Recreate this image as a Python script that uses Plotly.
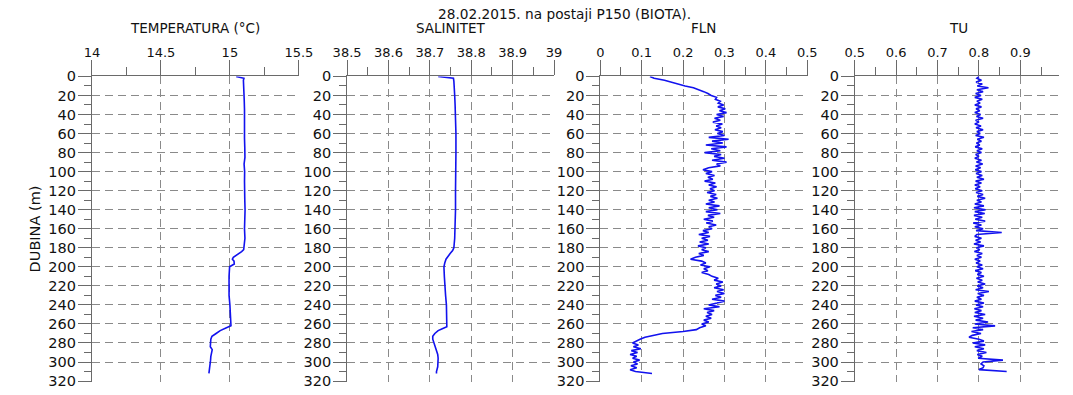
import plotly.graph_objects as go

W, H = 1073, 395

# Temperature profile (°C) versus depth (m)
TEMP_DEPTH = [0, 1, 2, 4, 8, 15, 25, 35, 45, 55, 65, 75, 85, 92, 100, 110, 120, 130,
              140, 150, 160, 170, 178, 182, 184, 187, 190, 192, 194, 197, 200, 210, 220,
              230, 240, 250, 258, 262, 264, 267, 270, 273, 276, 280, 284, 287, 290, 294,
              298, 302, 306, 310, 312]
TEMP = [15.045, 15.07, 15.102, 15.098, 15.1, 15.102, 15.104, 15.106, 15.105, 15.107,
        15.106, 15.108, 15.109, 15.103, 15.107, 15.106, 15.105, 15.108, 15.11, 15.107,
        15.106, 15.109, 15.105, 15.1, 15.085, 15.05, 15.025, 15.018, 15.03, 15.032,
        14.998, 14.994, 14.992, 14.994, 15.0, 15.003, 15.006, 15.008, 14.975, 14.93,
        14.9, 14.87, 14.862, 14.86, 14.858, 14.872, 14.866, 14.862, 14.86, 14.858,
        14.855, 14.85, 14.848]

# Salinity profile versus depth (m)
SAL_DEPTH = [0, 1, 2, 5, 10, 20, 30, 40, 60, 80, 100, 120, 140, 160, 170, 180, 183, 186,
             189, 192, 196, 200, 210, 220, 230, 240, 250, 260, 263, 265, 267, 270, 273,
             276, 280, 284, 288, 292, 296, 300, 305, 310, 312]
SAL = [38.72, 38.74, 38.757, 38.758, 38.759, 38.76, 38.761, 38.762, 38.763, 38.763,
       38.762, 38.762, 38.762, 38.761, 38.76, 38.758, 38.755, 38.749, 38.744, 38.739,
       38.736, 38.734, 38.735, 38.736, 38.738, 38.74, 38.741, 38.742, 38.741, 38.73,
       38.72, 38.712, 38.707, 38.707, 38.71, 38.713, 38.716, 38.719, 38.72, 38.72,
       38.719, 38.716, 38.716]

# Fluorescence and turbidity sampled every 2 m
CTD_DEPTH = [0, 2, 4, 6, 8, 10, 12, 14, 16, 18, 20, 22, 24, 26, 28, 30, 32, 34, 36, 38,
             40, 42, 44, 46, 48, 50, 52, 54, 56, 58, 60, 62, 64, 66, 68, 70, 72, 74, 76, 78,
             80, 82, 84, 86, 88, 90, 92, 94, 96, 98, 100, 102, 104, 106, 108, 110, 112, 114,
             116, 118, 120, 122, 124, 126, 128, 130, 132, 134, 136, 138, 140, 142, 144, 146,
             148, 150, 152, 154, 156, 158, 160, 162, 164, 166, 168, 170, 172, 174, 176, 178,
             180, 182, 184, 186, 188, 190, 192, 194, 196, 198, 200, 202, 204, 206, 208, 210,
             212, 214, 216, 218, 220, 222, 224, 226, 228, 230, 232, 234, 236, 238, 240, 242,
             244, 246, 248, 250, 252, 254, 256, 258, 260, 262, 264, 266, 268, 270, 272, 274,
             276, 278, 280, 282, 284, 286, 288, 290, 292, 294, 296, 298, 300, 302, 304, 306,
             308, 310, 312]

FLN = [0.12, 0.13, 0.155, 0.17, 0.186, 0.205, 0.225, 0.24, 0.25, 0.26,
       0.268, 0.281, 0.278, 0.29, 0.285, 0.298, 0.284, 0.302, 0.288, 0.305,
       0.281, 0.298, 0.276, 0.29, 0.272, 0.295, 0.28, 0.292, 0.277, 0.296,
       0.283, 0.30, 0.262, 0.31, 0.27, 0.296, 0.255, 0.305, 0.268, 0.29,
       0.252, 0.292, 0.275, 0.30, 0.27, 0.305, 0.281, 0.29, 0.262, 0.248,
       0.27, 0.255, 0.276, 0.26, 0.272, 0.252, 0.278, 0.262, 0.281, 0.265,
       0.276, 0.258, 0.28, 0.266, 0.283, 0.262, 0.276, 0.255, 0.288, 0.262,
       0.283, 0.255, 0.29, 0.26, 0.275, 0.25, 0.272, 0.256, 0.28, 0.262,
       0.27, 0.248, 0.262, 0.238, 0.265, 0.245, 0.26, 0.24, 0.262, 0.236,
       0.255, 0.245, 0.262, 0.238, 0.25, 0.23, 0.218, 0.245, 0.255, 0.242,
       0.265, 0.25, 0.26, 0.245, 0.262, 0.27, 0.285, 0.275, 0.296, 0.28,
       0.292, 0.275, 0.298, 0.282, 0.30, 0.278, 0.292, 0.27, 0.30, 0.282,
       0.262, 0.288, 0.25, 0.275, 0.258, 0.27, 0.255, 0.268, 0.25, 0.262,
       0.245, 0.255, 0.24, 0.232, 0.20, 0.15, 0.125, 0.108, 0.096, 0.088,
       0.078, 0.092, 0.08, 0.098, 0.075, 0.09, 0.072, 0.088, 0.078, 0.095,
       0.08, 0.09, 0.074, 0.088, 0.072, 0.085, 0.125]

TU = [0.80, 0.795, 0.806, 0.793, 0.808, 0.796, 0.823, 0.795, 0.81, 0.792,
      0.805, 0.79, 0.808, 0.795, 0.803, 0.79, 0.806, 0.793, 0.802, 0.79,
      0.804, 0.794, 0.81, 0.792, 0.80, 0.79, 0.805, 0.793, 0.81, 0.795,
      0.803, 0.792, 0.812, 0.796, 0.806, 0.794, 0.802, 0.791, 0.808, 0.795,
      0.806, 0.792, 0.80, 0.79, 0.806, 0.794, 0.809, 0.792, 0.804, 0.791,
      0.806, 0.793, 0.808, 0.795, 0.812, 0.792, 0.806, 0.79, 0.803, 0.791,
      0.808, 0.793, 0.81, 0.796, 0.815, 0.795, 0.806, 0.79, 0.812, 0.788,
      0.816, 0.79, 0.814, 0.788, 0.808, 0.791, 0.815, 0.786, 0.806, 0.79,
      0.81, 0.793, 0.855, 0.795, 0.79, 0.806, 0.792, 0.804, 0.788, 0.812,
      0.794, 0.802, 0.789, 0.808, 0.795, 0.806, 0.79, 0.803, 0.793, 0.808,
      0.795, 0.81, 0.791, 0.806, 0.796, 0.812, 0.794, 0.808, 0.797, 0.815,
      0.796, 0.81, 0.792, 0.824, 0.797, 0.812, 0.795, 0.806, 0.79, 0.812,
      0.793, 0.81, 0.789, 0.806, 0.79, 0.815, 0.788, 0.81, 0.792, 0.822,
      0.79, 0.839, 0.785, 0.81, 0.782, 0.805, 0.784, 0.776, 0.80, 0.812,
      0.785, 0.815, 0.79, 0.812, 0.795, 0.818, 0.796, 0.808, 0.798, 0.858,
      0.81, 0.805, 0.812, 0.81, 0.80, 0.867]

PANEL_TITLES = ["TEMPERATURA (°C)", "SALINITET", "FLN", "TU"]
X_RANGES = [(14.0, 15.5), (38.5, 39.0), (0.0, 0.5), (0.5, 1.0)]
X_DTICK = [0.5, 0.1, 0.1, 0.1]
DEPTH_MAX = 320
DEPTH_STEP = 20

MAIN_TITLE = "28.02.2015. na postaji P150 (BIOTA)."
Y_TITLE = "DUBINA (m)"

# Panel geometry in pixels
PANEL_LEFT = [80.0, 342.0, 602.0, 863.3]
PANEL_WIDTH = 212.5
PLOT_TOP, PLOT_BOTTOM = 71.3, 389.3

LINE_BLUE = "rgb(18,18,238)"
AXIS_GREY = "#6a6a6a"
GRID_GREY = "#8a8a8a"
FONT = "DejaVu Sans, Verdana, sans-serif"
TEXT = "#111111"

profiles = [(TEMP, TEMP_DEPTH), (SAL, SAL_DEPTH), (FLN, CTD_DEPTH), (TU, CTD_DEPTH[:len(TU)])]

fig = go.Figure()
layout_axes = {}
annotations = []

y_dom = [1 - PLOT_BOTTOM / H, 1 - PLOT_TOP / H]
EPS_FRAC = 0.0015  # keeps the gridlines at the range ends inside the axis range

for i, ((xs, ys), (x0, x1), dt, title) in enumerate(zip(profiles, X_RANGES, X_DTICK, PANEL_TITLES)):
    n = "" if i == 0 else str(i + 1)
    left = PANEL_LEFT[i]
    rng_hi = x1 + (x1 - x0) * EPS_FRAC
    right = left + PANEL_WIDTH * (1 + EPS_FRAC)
    if right > W:
        rng_hi = x0 + (x1 - x0) * (W - left) / PANEL_WIDTH
        right = W
    fig.add_trace(go.Scatter(
        x=xs, y=ys, mode="lines", xaxis="x" + n, yaxis="y" + n,
        line=dict(color=LINE_BLUE, width=1.6), showlegend=False, hoverinfo="skip"))

    layout_axes["xaxis" + n] = dict(
        domain=[left / W, right / W], range=[x0, rng_hi], anchor="y" + n,
        side="top", dtick=dt, tick0=x0, ticks="outside", ticklen=15, tickwidth=1,
        tickcolor=AXIS_GREY, showline=True, linecolor=AXIS_GREY, linewidth=1,
        showgrid=True, gridcolor=GRID_GREY, gridwidth=1, griddash="8px,5px",
        zeroline=False, tickfont=dict(family=FONT, size=13, color=TEXT),
        minor=dict(dtick=dt / 2, tick0=x0, ticks="outside", ticklen=8,
                   tickcolor=AXIS_GREY, showgrid=False),
        ticklabelstandoff=-2, ticklabeloverflow="allow", fixedrange=True)
    layout_axes["yaxis" + n] = dict(
        domain=y_dom, range=[DEPTH_MAX * (1 + EPS_FRAC), 0], anchor="x" + n,
        dtick=DEPTH_STEP, tick0=0, ticks="outside", ticklen=13, tickwidth=1,
        tickcolor=AXIS_GREY, showline=True, linecolor=AXIS_GREY, linewidth=1,
        showgrid=True, gridcolor=GRID_GREY, gridwidth=1, griddash="8px,5px",
        zeroline=False, tickfont=dict(family=FONT, size=14.5, color=TEXT),
        minor=dict(dtick=DEPTH_STEP / 2, tick0=0, ticks="outside", ticklen=7,
                   tickcolor=AXIS_GREY, showgrid=False),
        ticklabelstandoff=-1, ticklabeloverflow="allow", fixedrange=True)

    annotations.append(dict(
        text=title, xref="paper", yref="paper",
        x=(left + PANEL_WIDTH / 2) / W, y=1 - 20.5 / H,
        xanchor="center", yanchor="middle", showarrow=False,
        font=dict(family=FONT, size=13.5, color=TEXT)))

annotations.append(dict(
    text=MAIN_TITLE, xref="paper", yref="paper", x=565 / W, y=1 - 6 / H,
    xanchor="center", yanchor="middle", showarrow=False,
    font=dict(family=FONT, size=13.7, color=TEXT)))
annotations.append(dict(
    text=Y_TITLE, xref="paper", yref="paper", x=22 / W,
    y=1 - (PLOT_TOP + PLOT_BOTTOM) / 2 / H, xanchor="center", yanchor="middle",
    textangle=-90, showarrow=False, font=dict(family=FONT, size=14.5, color=TEXT)))

fig.update_layout(
    width=W, height=H, margin=dict(l=0, r=0, t=0, b=0),
    paper_bgcolor="white", plot_bgcolor="white",
    annotations=annotations, **layout_axes)

fig.write_html("out.html", config={"displayModeBar": False})
